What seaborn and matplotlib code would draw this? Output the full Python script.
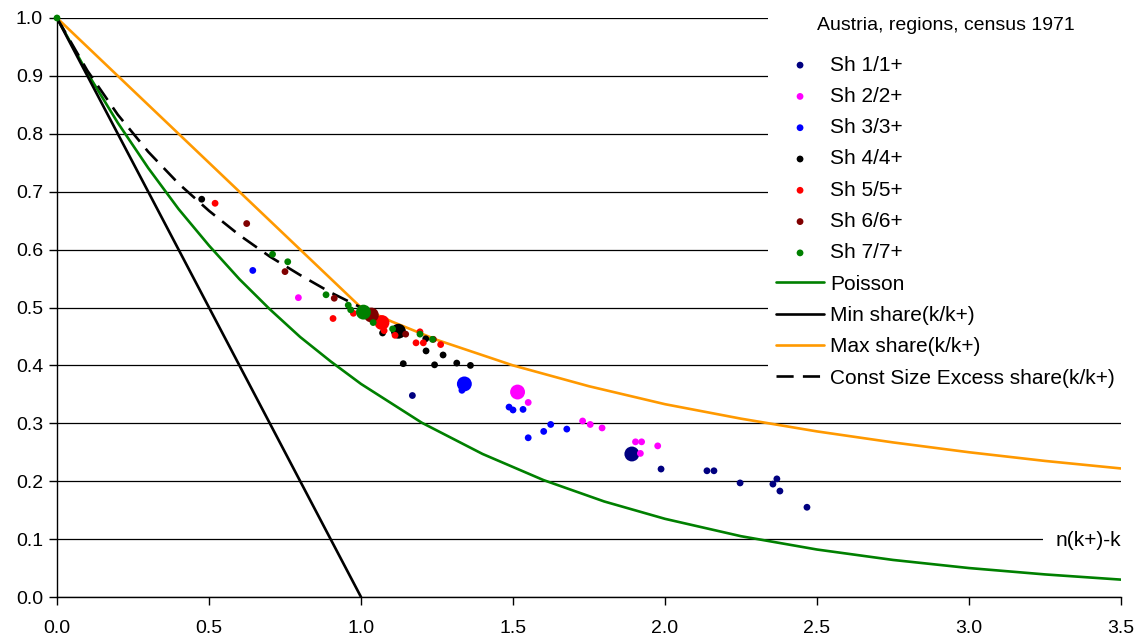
import numpy as np
import pandas as pd
import seaborn as sns
from matplotlib import pyplot as plt

#%% Data
# scatter series: regional shares (small dots) and the national value (big dot)
series_names = ['Sh 1/1+', 'Sh 2/2+', 'Sh 3/3+', 'Sh 4/4+', 'Sh 5/5+', 'Sh 6/6+', 'Sh 7/7+']
series_colors = ['#000080', '#FF00FF', '#0000FF', '#000000', '#FF0000', '#800000', '#008000']

sh1_x = [1.169, 1.987, 2.138, 2.161, 2.247, 2.355, 2.368, 2.378, 2.467]
sh1_y = [0.348, 0.221, 0.218, 0.218, 0.197, 0.195, 0.204, 0.183, 0.155]
sh2_x = [0.794, 1.550, 1.729, 1.754, 1.793, 1.903, 1.923, 1.919, 1.976]
sh2_y = [0.517, 0.336, 0.304, 0.298, 0.292, 0.268, 0.268, 0.248, 0.261]
sh3_x = [0.644, 1.332, 1.487, 1.500, 1.533, 1.550, 1.601, 1.624, 1.677]
sh3_y = [0.564, 0.357, 0.328, 0.323, 0.324, 0.275, 0.286, 0.298, 0.290]
sh4_x = [0.476, 1.071, 1.213, 1.214, 1.270, 1.139, 1.242, 1.315, 1.360]
sh4_y = [0.687, 0.456, 0.446, 0.425, 0.418, 0.403, 0.401, 0.404, 0.400]
sh5_x = [0.520, 0.908, 0.975, 1.076, 1.112, 1.181, 1.205, 1.194, 1.262]
sh5_y = [0.680, 0.481, 0.490, 0.460, 0.452, 0.439, 0.439, 0.458, 0.436]
sh6_x = [0.624, 0.750, 0.912, 1.147, 1.238]
sh6_y = [0.645, 0.562, 0.516, 0.454, 0.445]
sh7_x = [0.0, 0.709, 0.759, 0.885, 0.958, 0.966, 1.040, 1.104, 1.194, 1.235]
sh7_y = [1.0, 0.592, 0.579, 0.522, 0.504, 0.496, 0.474, 0.463, 0.454, 0.445]

# national (Austria total) points
total_x = [1.891, 1.515, 1.340, 1.123, 1.069, 1.034, 1.008]
total_y = [0.247, 0.354, 0.368, 0.459, 0.474, 0.487, 0.492]

# reference curves
poisson_x = [0, 0.1, 0.2, 0.3, 0.4, 0.5, 0.6, 0.7, 0.8, 0.9, 1.0, 1.2, 1.4, 1.6, 1.8,
             2.0, 2.25, 2.5, 2.75, 3.0, 3.25, 3.5]
poisson_y = [1.0, 0.905, 0.819, 0.741, 0.670, 0.607, 0.549, 0.497, 0.449, 0.407, 0.368,
             0.301, 0.247, 0.202, 0.165, 0.135, 0.105, 0.082, 0.064, 0.050, 0.039, 0.030]
min_x = [0.0, 1.0]
min_y = [1.0, 0.0]
max_x = [0.0, 1.0, 1.1, 1.25, 1.5, 1.75, 2.0, 2.25, 2.5, 2.75, 3.0, 3.25, 3.5]
max_y = [1.0, 0.5, 0.476, 0.444, 0.400, 0.364, 0.333, 0.308, 0.286, 0.267, 0.250, 0.235, 0.222]
const_x = [0.0, 0.1, 0.2, 0.3, 0.4, 0.5, 0.6, 0.7, 0.8, 0.9, 1.0]
const_y = [1.0, 0.909, 0.833, 0.769, 0.714, 0.667, 0.625, 0.588, 0.556, 0.526, 0.5]

#%% Plot
sns.set_style('white')
plt.rcParams['font.family'] = ['Liberation Sans', 'DejaVu Sans']
plt.rcParams['text.color'] = 'black'

fig = plt.figure(figsize=(11.39, 6.39), dpi=100)
ax = fig.add_axes([57 / 1139, 42 / 639, 1064 / 1139, 579 / 639])

lw = 1.9
sns.lineplot(x=poisson_x, y=poisson_y, color='#008000', lw=lw, sort=False, ax=ax, label='Poisson')
sns.lineplot(x=min_x, y=min_y, color='black', lw=lw, sort=False, ax=ax, label='Min share(k/k+)')
sns.lineplot(x=max_x, y=max_y, color='#FF9900', lw=lw, sort=False, ax=ax, label='Max share(k/k+)')
sns.lineplot(x=const_x, y=const_y, color='black', lw=lw, sort=False, ax=ax,
             label='Const Size Excess share(k/k+)', dashes=False)
ax.lines[-1].set_dashes((6.5, 3.5))

small_x = [sh1_x, sh2_x, sh3_x, sh4_x, sh5_x, sh6_x, sh7_x]
small_y = [sh1_y, sh2_y, sh3_y, sh4_y, sh5_y, sh6_y, sh7_y]
for i, name in enumerate(series_names):
    sns.scatterplot(x=small_x[i], y=small_y[i], color=series_colors[i], s=24,
                    edgecolor='none', ax=ax, label=name, clip_on=False, zorder=3)
    sns.scatterplot(x=[total_x[i]], y=[total_y[i]], color=series_colors[i], s=115,
                    edgecolor='none', ax=ax, legend=False, zorder=3)

ax.set_xlim(0, 3.5)
ax.set_ylim(0, 1.0)
ax.set_xticks(np.arange(0, 3.51, 0.5))
ax.set_yticks(np.arange(0, 1.01, 0.1))
ax.xaxis.set_major_formatter(plt.FormatStrFormatter('%.1f'))
ax.yaxis.set_major_formatter(plt.FormatStrFormatter('%.1f'))
ax.tick_params(axis='both', labelsize=14, length=6, width=1, color='black',
               labelcolor='black', direction='out', bottom=True, left=True)
ax.tick_params(axis='x', pad=10.5)
ax.tick_params(axis='y', pad=4)
ax.grid(axis='y', color='black', lw=0.9)
ax.grid(axis='x', visible=False)
ax.set_axisbelow(True)
sns.despine(ax=ax, top=True, right=True)
for side in ['left', 'bottom']:
    ax.spines[side].set_color('black')
    ax.spines[side].set_linewidth(1)
ax.set_xlabel('')
ax.set_ylabel('')

ax.text(3.5, 0.098, 'n(k+)-k', fontsize=15, ha='right', va='center', zorder=5,
        bbox=dict(boxstyle='square,pad=0.6', fc='white', ec='none'))

handles, labels = ax.get_legend_handles_labels()
order = [labels.index(n) for n in series_names] + [0, 1, 2, 3]
leg = ax.legend([handles[i] for i in order], [labels[i] for i in order],
                title='Austria, regions, census 1971', title_fontsize=14, fontsize=15,
                loc='upper left', bbox_to_anchor=(0.668, 1.016), frameon=True,
                facecolor='white', edgecolor='none', framealpha=1, fancybox=False,
                handlelength=2.3, handletextpad=0.3, labelspacing=0.59, borderaxespad=0)
leg._legend_box.sep = 15.5  # extra gap between title and entries
leg.set_zorder(6)

fig.savefig('out.png', dpi=100)
